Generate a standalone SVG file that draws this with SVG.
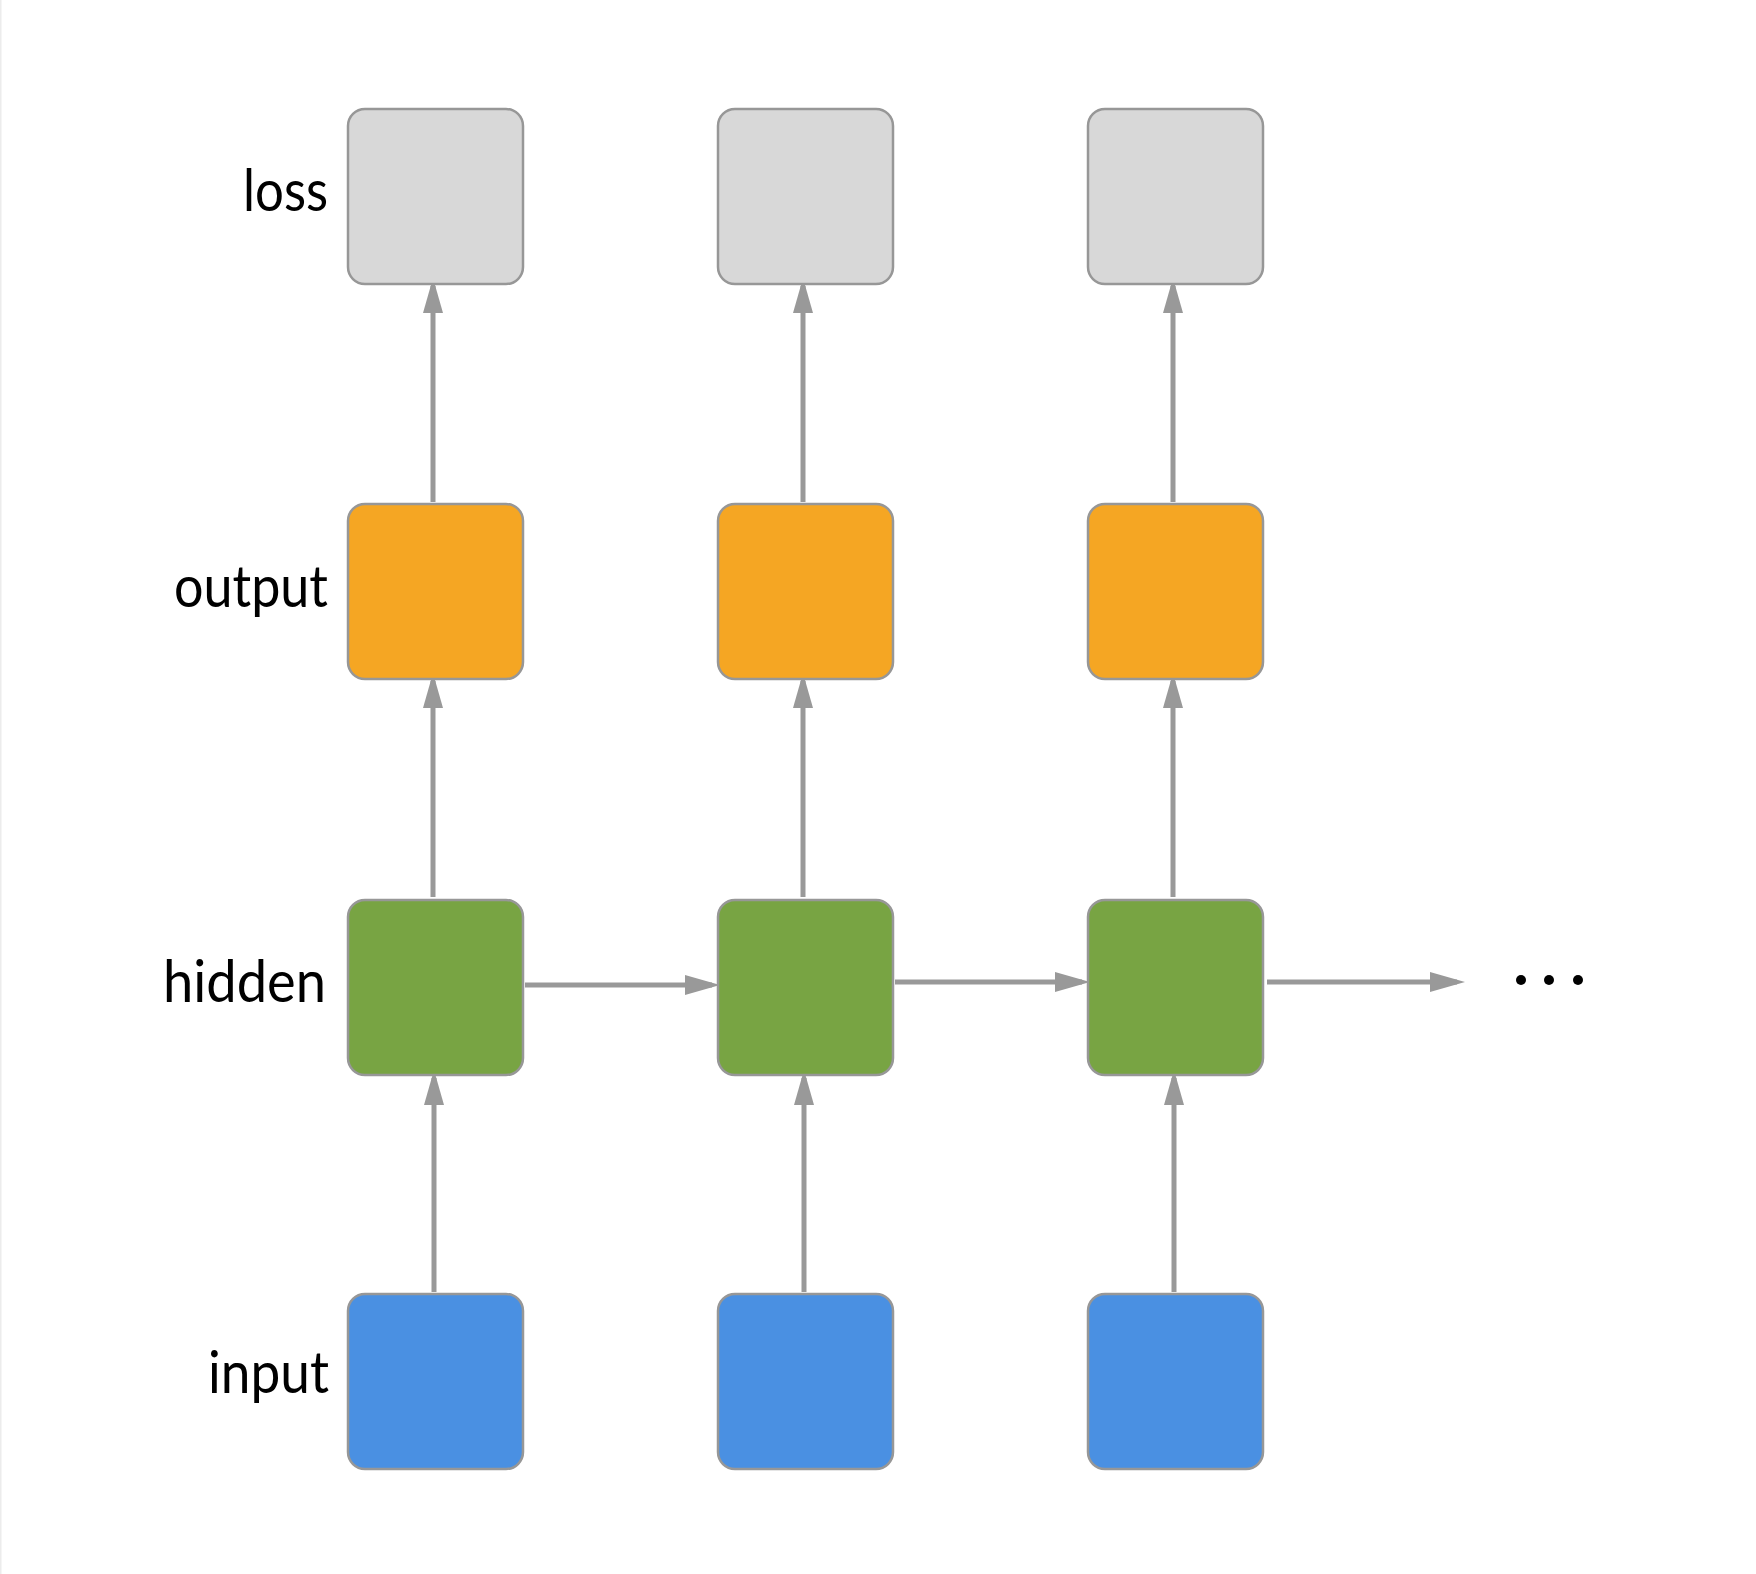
<svg xmlns="http://www.w3.org/2000/svg" width="1756" height="1574" viewBox="0 0 1756 1574">
<defs>
<style>
.box{stroke:#979797;stroke-width:2.5}
.loss{fill:#D8D8D8}
.out{fill:#F5A623}
.hid{fill:#78A443}
.inp{fill:#4A90E2}
.lbl{font-family:Lato,"Open Sans","Liberation Sans",sans-serif;font-size:58px;fill:#000;text-anchor:end}
.con{stroke:#999999;stroke-width:5;fill:none;marker-end:url(#ah)}
</style>
<marker id="ah" markerUnits="userSpaceOnUse" markerWidth="36" markerHeight="22" viewBox="0 0 36 22" refX="28" refY="11" orient="auto">
<path d="M1,1 L36,11 L1,21 Z" fill="#999999"/>
</marker>
</defs>
<rect x="0" y="0" width="1756" height="1574" fill="#FFFFFF"/>
<rect x="0" y="0" width="1.5" height="1574" fill="#ECECEC"/>
<g id="labels">
<text class="lbl" x="328" y="211" textLength="85" lengthAdjust="spacingAndGlyphs">loss</text>
<text class="lbl" x="328" y="607" textLength="154" lengthAdjust="spacingAndGlyphs">output</text>
<text class="lbl" x="326" y="1002" textLength="163" lengthAdjust="spacingAndGlyphs">hidden</text>
<text class="lbl" x="329" y="1393" textLength="121" lengthAdjust="spacingAndGlyphs">input</text>
</g>
<g id="connectors">
<line class="con" x1="433" y1="502" x2="433" y2="286"/>
<line class="con" x1="803" y1="502" x2="803" y2="286"/>
<line class="con" x1="1173" y1="502" x2="1173" y2="286"/>
<line class="con" x1="433" y1="897" x2="433" y2="681"/>
<line class="con" x1="803" y1="897" x2="803" y2="681"/>
<line class="con" x1="1173" y1="897" x2="1173" y2="681"/>
<line class="con" x1="434" y1="1292" x2="434" y2="1078"/>
<line class="con" x1="804" y1="1292" x2="804" y2="1078"/>
<line class="con" x1="1174" y1="1292" x2="1174" y2="1078"/>
<line class="con" x1="525" y1="985" x2="712" y2="985"/>
<line class="con" x1="895" y1="982" x2="1082" y2="982"/>
<line class="con" x1="1267" y1="982" x2="1457" y2="982"/>
</g>
<g id="loss1"><rect class="box loss" x="348" y="109" width="175" height="175" rx="17"/></g>
<g id="loss2"><rect class="box loss" x="718" y="109" width="175" height="175" rx="17"/></g>
<g id="loss3"><rect class="box loss" x="1088" y="109" width="175" height="175" rx="17"/></g>
<g id="output1"><rect class="box out" x="348" y="504" width="175" height="175" rx="17"/></g>
<g id="output2"><rect class="box out" x="718" y="504" width="175" height="175" rx="17"/></g>
<g id="output3"><rect class="box out" x="1088" y="504" width="175" height="175" rx="17"/></g>
<g id="hidden1"><rect class="box hid" x="348" y="900" width="175" height="175" rx="17"/></g>
<g id="hidden2"><rect class="box hid" x="718" y="900" width="175" height="175" rx="17"/></g>
<g id="hidden3"><rect class="box hid" x="1088" y="900" width="175" height="175" rx="17"/></g>
<g id="input1"><rect class="box inp" x="348" y="1294" width="175" height="175" rx="17"/></g>
<g id="input2"><rect class="box inp" x="718" y="1294" width="175" height="175" rx="17"/></g>
<g id="input3"><rect class="box inp" x="1088" y="1294" width="175" height="175" rx="17"/></g>
<g id="ellipsis">
<circle cx="1521" cy="980" r="5" fill="#000"/>
<circle cx="1549" cy="980" r="5" fill="#000"/>
<circle cx="1578" cy="980" r="5" fill="#000"/>
</g>
</svg>
